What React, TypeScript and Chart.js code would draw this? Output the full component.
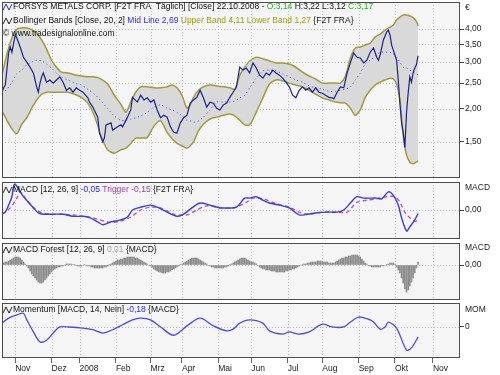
import React, { useEffect, useRef } from "react";
import { Chart, registerables } from "chart.js";
Chart.register(...registerables);

const FONT = '"Liberation Sans", Arial, sans-serif';
const FS = 8.5;

// x axis: trading-day index
const X_MAX = 277.4;
const monthTickDays = [8, 30, 47, 69, 90, 109, 131, 151, 173, 194, 216, 238, 261];
const monthLabels = ["Nov", "Dez", "2008", "Feb", "Mrz", "Apr", "Mai", "Jun", "Jul", "Aug", "Sep", "Okt", "Nov"];

const priceTicks = [1.5, 2, 2.5, 3, 3.5, 4];

// [day, close]
const priceClose: [number, number][] = [
  [0, 2.31], [1, 2.4], [2, 2.46], [4, 3.25], [5, 3.42], [6, 3.27], [8, 3.8], [9, 3.7], [11, 3.42], [13, 3.13],
  [15, 3.0], [17, 2.87], [19, 2.73], [21, 2.42], [22, 2.31], [23, 2.5], [24, 2.64], [25, 2.73], [27, 2.52], [29, 2.57],
  [31, 2.5], [33, 2.57], [35, 2.64], [37, 2.52], [39, 2.35], [41, 2.4], [43, 2.31], [45, 2.4], [47, 2.35], [49, 2.31],
  [52, 2.2], [53, 2.12], [55, 2.03], [58, 1.86], [59, 1.62], [61, 1.5], [62, 1.55], [63, 1.74], [66, 1.77], [67, 1.66],
  [70, 1.71], [72, 1.74], [73, 1.71], [76, 1.86], [78, 1.98], [79, 2.21], [82, 2.12], [84, 2.25], [86, 2.16], [88, 2.2],
  [90, 2.12], [92, 2.16], [94, 1.98], [96, 1.85], [98, 1.89], [100, 1.86], [102, 1.71], [104, 1.63], [106, 1.62], [108, 1.77],
  [110, 1.85], [112, 1.89], [114, 2.1], [116, 2.16], [118, 2.21], [120, 2.35], [122, 2.2], [124, 2.03], [126, 2.12], [128, 2.1],
  [130, 2.01], [132, 1.98], [134, 2.07], [136, 2.1], [138, 2.21], [140, 2.31], [142, 2.42], [144, 2.87], [146, 2.8], [148, 2.85],
  [150, 2.73], [152, 2.98], [154, 2.85], [156, 2.68], [158, 2.61], [160, 2.73], [162, 2.68], [164, 2.8], [166, 2.73], [168, 2.68],
  [170, 2.61], [172, 2.52], [174, 2.42], [176, 2.25], [178, 2.2], [180, 2.35], [182, 2.42], [184, 2.35], [186, 2.4], [188, 2.31],
  [190, 2.4], [192, 2.31], [194, 2.29], [196, 2.25], [198, 2.21], [200, 2.2], [201, 2.18], [203, 2.31], [205, 2.42], [207, 2.4],
  [209, 2.73], [211, 2.98], [213, 3.25], [215, 3.13], [217, 3.11], [219, 2.98], [221, 3.05], [223, 3.27], [225, 3.39], [227, 3.13],
  [228, 3.05], [229, 3.19], [231, 3.64], [233, 3.9], [234, 3.96], [235, 3.8], [236, 3.48], [237, 3.33], [239, 3.05], [240, 2.57],
  [241, 2.1], [242, 1.77], [243, 1.63], [244, 1.43], [245, 1.93], [246, 2.29], [247, 2.64], [248, 2.52], [249, 2.73], [250, 2.85],
  [251, 2.93], [252, 3.17],
];

const bandDays = [
  0, 3, 6, 9, 12, 15, 18, 21, 24, 27, 30, 33, 36, 40, 44, 48, 52, 56, 60, 64,
  68, 72, 75, 78, 81, 84, 88, 92, 96, 100, 103, 106, 109, 112, 114, 116, 119, 122, 126, 130,
  134, 138, 141, 144, 147, 150, 154, 158, 162, 166, 170, 174, 178, 182, 186, 190, 194, 198, 202, 205,
  208, 211, 214, 217, 220, 223, 226, 229, 232, 235, 237, 239, 241, 243, 245, 247, 249, 251, 252,
];
const upperBand = [
  2.68, 3.22, 3.7, 4.0, 4.04, 4.04, 3.98, 3.86, 3.64, 3.36, 3.05, 2.87, 2.75, 2.73, 2.69, 2.66, 2.64, 2.64, 2.59, 2.48,
  2.25, 2.08, 1.94, 2.12, 2.31, 2.42, 2.42, 2.4, 2.4, 2.42, 2.46, 2.4, 2.25, 2.01, 2.07, 2.21, 2.35, 2.42, 2.46, 2.44,
  2.42, 2.4, 2.37, 2.68, 2.87, 3.03, 3.13, 3.09, 3.03, 2.98, 2.98, 2.95, 2.87, 2.75, 2.66, 2.59, 2.5, 2.5, 2.5, 2.5,
  2.66, 3.11, 3.39, 3.42, 3.48, 3.54, 3.73, 3.83, 3.96, 4.07, 4.14, 4.33, 4.44, 4.52, 4.52, 4.48, 4.42, 4.28, 4.11,
];
const lowerBand = [
  1.96, 1.81, 1.68, 1.61, 1.75, 1.85, 2.01, 2.16, 2.27, 2.31, 2.31, 2.31, 2.31, 2.31, 2.27, 2.21, 2.1, 1.88, 1.58, 1.4,
  1.36, 1.4, 1.42, 1.48, 1.55, 1.55, 1.56, 1.72, 1.8, 1.63, 1.54, 1.48, 1.45, 1.42, 1.45, 1.5, 1.65, 1.75, 1.83, 1.86,
  1.89, 1.91, 1.88, 1.81, 1.74, 1.74, 1.94, 2.2, 2.48, 2.57, 2.55, 2.5, 2.46, 2.42, 2.35, 2.27, 2.2, 2.16, 2.12, 2.11,
  2.1, 2.01, 1.89, 1.98, 2.21, 2.35, 2.46, 2.52, 2.57, 2.61, 2.59, 2.48, 2.16, 1.59, 1.34, 1.26, 1.24, 1.26, 1.27,
];
const midLine = [
  2.29, 2.37, 2.52, 2.71, 2.8, 2.93, 3.0, 3.05, 3.03, 2.95, 2.85, 2.73, 2.64, 2.57, 2.5, 2.46, 2.37, 2.27, 2.14, 2.0,
  1.88, 1.81, 1.81, 1.83, 1.85, 1.88, 1.94, 2.03, 2.07, 2.01, 1.98, 1.94, 1.88, 1.81, 1.8, 1.78, 1.8, 1.86, 1.98, 2.12,
  2.12, 2.12, 2.14, 2.2, 2.25, 2.4, 2.61, 2.78, 2.8, 2.78, 2.71, 2.64, 2.57, 2.52, 2.44, 2.4, 2.37, 2.33, 2.33, 2.35,
  2.37, 2.42, 2.57, 2.73, 2.95, 3.05, 3.16, 3.27, 3.27, 3.27, 3.22, 3.13, 3.0, 2.87, 2.85, 2.8, 2.75, 2.71, 2.69,
];

const macdLine: [number, number][] = [
  [0, -0.06], [2, -0.03], [4, 0.07], [6, 0.19], [7, 0.34], [8, 0.37], [10, 0.3], [13, 0.19], [16, 0.11], [19, 0.03],
  [22, -0.04], [25, -0.06], [31, -0.06], [37, -0.06], [43, -0.09], [49, -0.09], [53, -0.11], [58, -0.17], [61, -0.21], [66, -0.17],
  [72, -0.14], [76, -0.1], [79, 0.0], [84, 0.04], [90, 0.07], [94, 0.04], [100, -0.03], [106, -0.09], [110, -0.06], [115, 0.03],
  [120, 0.1], [126, 0.07], [132, 0.03], [136, 0.03], [142, 0.04], [147, 0.17], [150, 0.17], [154, 0.19], [158, 0.14], [162, 0.1],
  [168, 0.07], [174, 0.03], [180, -0.07], [185, -0.06], [191, -0.04], [197, -0.03], [203, -0.03], [207, 0.0], [211, 0.1], [215, 0.19],
  [219, 0.17], [223, 0.17], [227, 0.17], [230, 0.16], [234, 0.26], [237, 0.21], [240, 0.07], [242, -0.11], [245, -0.3], [247, -0.24],
  [250, -0.14], [252, -0.05],
];
const triggerLine: [number, number][] = [
  [0, -0.06], [5, 0.03], [9, 0.17], [11, 0.26], [15, 0.14], [19, 0.04], [23, -0.03], [29, -0.06], [37, -0.06], [43, -0.07],
  [49, -0.09], [53, -0.1], [59, -0.14], [64, -0.17], [70, -0.17], [78, -0.1], [84, 0.0], [90, 0.04], [96, 0.03], [104, -0.06],
  [112, -0.07], [118, 0.0], [124, 0.06], [132, 0.03], [140, 0.03], [148, 0.11], [152, 0.17], [158, 0.16], [166, 0.09], [174, 0.04],
  [180, -0.03], [186, -0.06], [194, -0.03], [203, -0.03], [209, -0.03], [215, 0.11], [221, 0.14], [227, 0.16], [233, 0.19], [238, 0.19],
  [241, 0.11], [244, -0.03], [247, -0.11], [250, -0.16], [252, -0.15],
];

// MACD forest, one bar per trading day (day 0..252)
const macdForest = [
  0.02, 0.02, 0.03, 0.03, 0.04, 0.05, 0.06, 0.07, 0.08, 0.08,
  0.08, 0.07, 0.05, 0.03, 0.01, -0.01, -0.03, -0.06, -0.09, -0.11,
  -0.13, -0.15, -0.17, -0.18, -0.18, -0.17, -0.15, -0.13, -0.11, -0.09,
  -0.07, -0.05, -0.04, -0.03, -0.02, -0.02, -0.01, -0.01, 0, 0.01,
  0.01, 0.01, 0.01, 0.005, 0.005, -0.005, -0.01, -0.01, -0.01, -0.005,
  0.005, -0.005, -0.01, -0.01, -0.02, -0.02, -0.03, -0.03, -0.03, -0.03,
  -0.03, -0.03, -0.02, -0.02, -0.01, 0.005, 0.01, 0.02, 0.03, 0.04,
  0.05, 0.05, 0.06, 0.06, 0.07, 0.07, 0.08, 0.08, 0.08, 0.08,
  0.08, 0.07, 0.07, 0.06, 0.05, 0.04, 0.03, 0.02, 0.01, -0.005,
  -0.01, -0.02, -0.04, -0.05, -0.06, -0.07, -0.07, -0.08, -0.08, -0.08,
  -0.07, -0.07, -0.06, -0.05, -0.04, -0.03, -0.02, -0.01, 0.005, 0.01,
  0.02, 0.03, 0.04, 0.05, 0.06, 0.07, 0.07, 0.07, 0.07, 0.06,
  0.05, 0.04, 0.03, 0.02, 0.01, -0.005, -0.01, -0.02, -0.02, -0.03,
  -0.03, -0.03, -0.03, -0.03, -0.03, -0.02, -0.02, -0.01, 0.005, 0.01,
  0.02, 0.03, 0.04, 0.05, 0.06, 0.07, 0.07, 0.07, 0.06, 0.05,
  0.04, 0.03, 0.03, 0.02, 0.01, -0.005, -0.02, -0.03, -0.04, -0.04,
  -0.05, -0.05, -0.05, -0.06, -0.06, -0.06, -0.07, -0.07, -0.07, -0.07,
  -0.07, -0.07, -0.06, -0.06, -0.05, -0.05, -0.04, -0.04, -0.03, -0.02,
  -0.01, -0.005, 0.005, 0.01, 0.01, 0.02, 0.02, 0.03, 0.03, 0.03,
  0.03, 0.04, 0.04, 0.04, 0.03, 0.03, 0.03, 0.03, 0.02, 0.02,
  0.02, 0.02, 0.03, 0.04, 0.05, 0.06, 0.07, 0.07, 0.08, 0.08,
  0.09, 0.09, 0.1, 0.1, 0.1, 0.1, 0.09, 0.08, 0.06, 0.04,
  0.02, 0.01, -0.005, -0.01, -0.02, -0.02, -0.02, -0.02, -0.02, -0.02,
  -0.01, -0.01, -0.005, 0.005, 0.01, 0.02, 0.02, 0.02, 0.01, -0.02,
  -0.05, -0.08, -0.13, -0.18, -0.24, -0.27, -0.25, -0.21, -0.17, -0.13,
  -0.08, -0.03, 0.03,
];

const momentumLine: [number, number][] = [
  [0, 0.07], [4, 0.16], [9, 0.22], [13, 0.25], [15, 0.13], [19, -0.09], [23, -0.27], [27, -0.24], [31, -0.11], [35, 0.0],
  [41, 0.0], [49, -0.02], [55, -0.05], [61, -0.11], [67, -0.05], [73, 0.04], [79, 0.13], [84, 0.16], [90, 0.13], [96, 0.0],
  [104, -0.15], [112, 0.02], [120, 0.16], [128, 0.02], [136, -0.07], [140, -0.04], [144, 0.07], [150, 0.13], [158, 0.07], [162, -0.07],
  [170, -0.13], [174, -0.09], [180, -0.13], [186, -0.09], [194, 0.05], [200, 0.0], [207, 0.0], [211, 0.09], [216, 0.18], [221, 0.15],
  [225, 0.09], [229, -0.04], [232, 0.0], [234, 0.09], [239, -0.02], [245, -0.42], [248, -0.38], [252, -0.18],
];

type Seg = { t: string; c: string };
type LegendLine = { x: number; y: number; icon?: string; segs: Seg[] };

const pairs = (arr: [number, number][]) => arr.map(([x, y]) => ({ x, y }));
const zipXY = (xs: number[], ys: number[]) => xs.map((x, i) => ({ x, y: ys[i] }));
const comma = (v: number, d: number) => v.toFixed(d).replace(".", ",");

function drawIcon(ctx: CanvasRenderingContext2D, x: number, y: number, color: string) {
  ctx.save();
  ctx.strokeStyle = color;
  ctx.lineWidth = 1;
  ctx.beginPath();
  ctx.moveTo(x, y + 3);
  ctx.lineTo(x + 3, y - 3);
  ctx.lineTo(x + 6, y + 3);
  ctx.lineTo(x + 9, y - 3);
  ctx.stroke();
  ctx.restore();
}

function panelPlugin(cfg: { lines: LegendLine[]; title: string; titleY: number; hLines: number[] }) {
  return {
    id: "panelDeco",
    beforeDraw(chart: any) {
      const { ctx, chartArea: a } = chart;
      ctx.save();
      ctx.fillStyle = "#ffffff";
      ctx.fillRect(0, 0, chart.width, chart.height);
      ctx.fillStyle = "#f5f5f5";
      ctx.fillRect(a.left, a.top, a.right - a.left, a.bottom - a.top);
      ctx.restore();
    },
    beforeDatasetsDraw(chart: any) {
      const { ctx, chartArea: a, scales } = chart;
      ctx.save();
      ctx.beginPath();
      ctx.rect(a.left, a.top, a.right - a.left, a.bottom - a.top);
      ctx.clip();
      ctx.strokeStyle = "#bdbdbd";
      ctx.lineWidth = 1;
      ctx.setLineDash([1, 2]);
      for (const d of monthTickDays) {
        const px = Math.round(scales.x.getPixelForValue(d)) + 0.5;
        if (px <= a.left || px >= a.right) continue;
        ctx.beginPath();
        ctx.moveTo(px, a.top);
        ctx.lineTo(px, a.bottom);
        ctx.stroke();
      }
      for (const v of cfg.hLines) {
        const py = Math.round(scales.y.getPixelForValue(v)) + 0.5;
        ctx.beginPath();
        ctx.moveTo(a.left, py);
        ctx.lineTo(a.right, py);
        ctx.stroke();
      }
      ctx.restore();
    },
    afterDatasetsDraw(chart: any) {
      const { ctx, chartArea: a } = chart;
      ctx.save();
      ctx.strokeStyle = "#4d4d4d";
      ctx.lineWidth = 1;
      ctx.setLineDash([]);
      ctx.strokeRect(a.left + 0.5, a.top + 0.5, a.right - a.left - 1, a.bottom - a.top - 1);
      ctx.font = `${FS}px ${FONT}`;
      ctx.textBaseline = "middle";
      ctx.textAlign = "left";
      for (const ln of cfg.lines) {
        let x = ln.x;
        if (ln.icon) {
          drawIcon(ctx, x, ln.y, ln.icon);
          x += 10;
        }
        for (const s of ln.segs) {
          ctx.fillStyle = s.c;
          ctx.fillText(s.t, x, ln.y);
          x += ctx.measureText(s.t).width;
        }
      }
      ctx.fillStyle = "#222";
      ctx.fillText(cfg.title, a.right + 5, cfg.titleY);
      ctx.restore();
    },
  };
}

const tickFont = { family: FONT, size: FS };

function yAxis(type: string, min: number, max: number, ticks: number[], fmt: (v: number) => string) {
  return {
    type,
    position: "right",
    min,
    max,
    afterBuildTicks: (s: any) => {
      s.ticks = ticks.map((v) => ({ value: v }));
    },
    afterFit: (s: any) => {
      s.width = 40;
      s.paddingTop = 0;
      s.paddingBottom = 0;
    },
    grid: { drawOnChartArea: false, drawTicks: true, tickLength: 4, color: "#444" },
    border: { display: false },
    ticks: { font: tickFont, color: "#222", padding: 1, autoSkip: false, callback: (v: number) => fmt(v) },
  };
}

const hiddenX = { type: "linear", min: 0, max: X_MAX, display: false, offset: false };

const bottomX = {
  type: "linear",
  min: 0,
  max: X_MAX,
  offset: false,
  position: "bottom",
  afterBuildTicks: (s: any) => {
    s.ticks = monthTickDays.map((v) => ({ value: v }));
  },
  afterFit: (s: any) => {
    s.height = 17;
    s.paddingLeft = 0;
    s.paddingRight = 0;
  },
  grid: { drawOnChartArea: false, drawTicks: true, tickLength: 5, color: "#666", offset: false },
  border: { display: false },
  ticks: {
    autoSkip: false,
    maxRotation: 0,
    minRotation: 0,
    align: "start",
    padding: 1,
    font: tickFont,
    color: "#222",
    callback: (_v: number, i: number) => monthLabels[i],
  },
};

function baseOptions(x: any, y: any, padding: any) {
  return {
    responsive: false,
    maintainAspectRatio: false,
    animation: false,
    devicePixelRatio: 1,
    events: [],
    layout: { padding },
    plugins: { legend: { display: false }, tooltip: { enabled: false } },
    scales: { x, y },
  };
}

export default function App() {
  const r1 = useRef<HTMLCanvasElement>(null);
  const r2 = useRef<HTMLCanvasElement>(null);
  const r3 = useRef<HTMLCanvasElement>(null);
  const r4 = useRef<HTMLCanvasElement>(null);

  useEffect(() => {
    document.body.style.margin = "0";
    const charts: Chart[] = [];
    const BLK = "#111";

    charts.push(
      new Chart(r1.current as HTMLCanvasElement, {
        type: "line",
        data: {
          datasets: [
            { data: pairs(priceClose), borderColor: "#1f1f8f", borderWidth: 1.2, pointRadius: 0, tension: 0, fill: false },
            { data: zipXY(bandDays, midLine), borderColor: "#3a3aff", borderWidth: 1, borderDash: [1, 3], pointRadius: 0, tension: 0.25, fill: false },
            { data: zipXY(bandDays, upperBand), borderColor: "#9c9c3e", borderWidth: 1.5, pointRadius: 0, tension: 0.25, fill: false },
            { data: zipXY(bandDays, lowerBand), borderColor: "#9c9c3e", borderWidth: 1.5, pointRadius: 0, tension: 0.25, fill: "-1", backgroundColor: "#d9d9d9" },
          ],
        } as any,
        options: baseOptions(
          hiddenX,
          yAxis("logarithmic", 1.096, 5.06, priceTicks, (v) => comma(v, 2)),
          { left: 2, top: 2, bottom: 2, right: 0 }
        ) as any,
        plugins: [
          panelPlugin({
            lines: [
              {
                x: 3, y: 7, icon: "#3030c0",
                segs: [
                  { t: "FORSYS METALS CORP. [F2T FRA  Täglich] [Close] 22.10.2008 - ", c: BLK },
                  { t: "O:3,14", c: "#27b327" },
                  { t: " H:3,22 L:3,12 ", c: BLK },
                  { t: "C:3,17", c: "#27b327" },
                ],
              },
              {
                x: 3, y: 21, icon: "#222",
                segs: [
                  { t: "Bollinger Bands [Close, 20, 2] ", c: BLK },
                  { t: "Mid Line 2,69 ", c: "#2a2aff" },
                  { t: "Upper Band 4,11 Lower Band 1,27 ", c: "#a3a300" },
                  { t: "{F2T FRA}", c: BLK },
                ],
              },
              { x: 3, y: 34, segs: [{ t: "© www.tradesignalonline.com", c: BLK }] },
            ],
            title: "€",
            titleY: 8,
            hLines: priceTicks,
          }) as any,
        ],
      })
    );

    charts.push(
      new Chart(r2.current as HTMLCanvasElement, {
        type: "line",
        data: {
          datasets: [
            { data: pairs(macdLine), borderColor: "#3c3ce0", borderWidth: 1.4, pointRadius: 0, tension: 0.3, fill: false },
            { data: pairs(triggerLine), borderColor: "#b050b0", borderWidth: 1.3, borderDash: [4, 3], pointRadius: 0, tension: 0.3, fill: false },
          ],
        } as any,
        options: baseOptions(hiddenX, yAxis("linear", -0.414, 0.4, [0], (v) => comma(v, 2)), { left: 2, top: 2, bottom: 2, right: 0 }) as any,
        plugins: [
          panelPlugin({
            lines: [
              {
                x: 3, y: 10, icon: "#222",
                segs: [
                  { t: "MACD [12, 26, 9] ", c: BLK },
                  { t: "-0,05 ", c: "#2a2aff" },
                  { t: "Trigger -0,15 ", c: "#a040a0" },
                  { t: "{F2T FRA}", c: BLK },
                ],
              },
            ],
            title: "MACD",
            titleY: 8,
            hLines: [0],
          }) as any,
        ],
      })
    );

    charts.push(
      new Chart(r3.current as HTMLCanvasElement, {
        type: "bar",
        data: {
          datasets: [
            { data: macdForest.map((v, i) => ({ x: i, y: v })), backgroundColor: "#8c8c8c", borderWidth: 0, barThickness: 1 },
          ],
        } as any,
        options: baseOptions(hiddenX, yAxis("linear", -0.35, 0.22, [0], (v) => comma(v, 2)), { left: 2, top: 2, bottom: 2, right: 0 }) as any,
        plugins: [
          panelPlugin({
            lines: [
              {
                x: 3, y: 9, icon: "#222",
                segs: [
                  { t: "MACD Forest [12, 26, 9] ", c: BLK },
                  { t: "0,01 ", c: "#a8a8a8" },
                  { t: "{MACD}", c: BLK },
                ],
              },
            ],
            title: "MACD",
            titleY: 7,
            hLines: [0],
          }) as any,
        ],
      })
    );

    charts.push(
      new Chart(r4.current as HTMLCanvasElement, {
        type: "line",
        data: {
          datasets: [
            { data: pairs(momentumLine), borderColor: "#4a4ae6", borderWidth: 1.3, pointRadius: 0, tension: 0.3, fill: false },
          ],
        } as any,
        options: baseOptions(bottomX, yAxis("linear", -0.564, 0.436, [0], (v) => comma(v, 0)), { left: 2, top: 2, bottom: 0, right: 0 }) as any,
        plugins: [
          panelPlugin({
            lines: [
              {
                x: 3, y: 9, icon: "#222",
                segs: [
                  { t: "Momentum [MACD, 14, Nein] ", c: BLK },
                  { t: "-0,18 ", c: "#2a2aff" },
                  { t: "{MACD}", c: BLK },
                ],
              },
            ],
            title: "MOM",
            titleY: 9,
            hLines: [0],
          }) as any,
        ],
      })
    );

    return () => charts.forEach((c) => c.destroy());
  }, []);

  const cs = (top: number): React.CSSProperties => ({ position: "absolute", left: 0, top });
  return (
    <div style={{ position: "relative", width: 500, height: 375, background: "#fff", overflow: "hidden" }}>
      <canvas ref={r1} width={500} height={180} style={cs(0)} />
      <canvas ref={r2} width={500} height={61} style={cs(180)} />
      <canvas ref={r3} width={500} height={61} style={cs(241)} />
      <canvas ref={r4} width={500} height={74} style={cs(301)} />
    </div>
  );
}
